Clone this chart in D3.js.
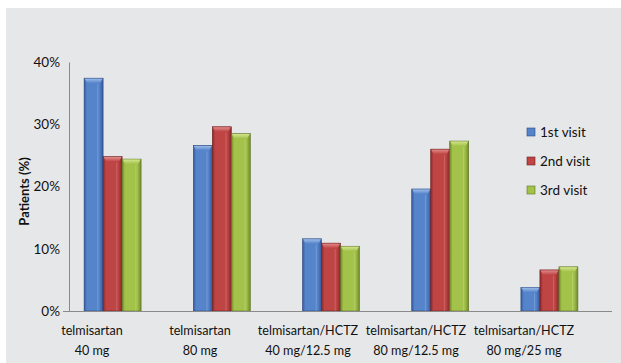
<!DOCTYPE html>
<html>
<head>
<meta charset="utf-8">
<script src="https://cdn.jsdelivr.net/npm/d3@7/dist/d3.min.js"></script>
<style>
  html, body { margin: 0; padding: 0; background: #ffffff; }
  svg { display: block; }
  text { font-family: Lato, "Open Sans", sans-serif; fill: #111; }
</style>
</head>
<body>
<svg id="chart" width="621" height="363"></svg>
<script>
// Share of patients per treatment arm at each visit
const categories = [
  ["telmisartan", "40 mg"],
  ["telmisartan", "80 mg"],
  ["telmisartan/HCTZ", "40 mg/12.5 mg"],
  ["telmisartan/HCTZ", "80 mg/12.5 mg"],
  ["telmisartan/HCTZ", "80 mg/25 mg"]
];
const seriesNames = ["1st visit", "2nd visit", "3rd visit"];
const firstVisit  = [37.4, 26.6, 11.6, 19.6, 3.8];
const secondVisit = [24.8, 29.6, 10.9, 26.0, 6.6];
const thirdVisit  = [24.4, 28.5, 10.4, 27.3, 7.1];
const yTicks = [0, 10, 20, 30, 40];

const seriesValues = [firstVisit, secondVisit, thirdVisit];
const palette = [
  { edge: "#34589a", mid: "#5584cb", cap: "#9bbbe8", line: "#2c4a80" },
  { edge: "#862828", mid: "#bf4444", cap: "#e08a8a", line: "#702020" },
  { edge: "#6f882a", mid: "#a3c24a", cap: "#d2e48c", line: "#5e7424" }
];

const svg = d3.select("#chart");
const W = 621, H = 363;

// panel background
svg.append("rect").attr("x", 6).attr("y", 8).attr("width", W - 6).attr("height", H - 8)
  .attr("fill", "#e6e7e9");

const plot = { left: 69, right: 612, top: 62, bottom: 311 };

const y = d3.scaleLinear().domain([0, 40]).range([plot.bottom, plot.top]);
const catKeys = categories.map((c, i) => i);
// bar groups and their labels
const xBars = d3.scaleBand().domain(catKeys).range([58, 604]);
const xLabels = d3.scaleBand().domain(catKeys).range([38, 578]);
const xSeries = d3.scaleBand().domain(d3.range(seriesNames.length)).range([-28.5, 28.5]);

// gradients
const defs = svg.append("defs");
palette.forEach((p, i) => {
  const g = defs.append("linearGradient").attr("id", "body" + i)
    .attr("x1", "0").attr("x2", "1").attr("y1", "0").attr("y2", "0");
  g.append("stop").attr("offset", "0").attr("stop-color", p.edge);
  g.append("stop").attr("offset", "0.15").attr("stop-color", p.mid);
  g.append("stop").attr("offset", "0.8").attr("stop-color", p.mid);
  g.append("stop").attr("offset", "1").attr("stop-color", p.edge);
  const c = defs.append("linearGradient").attr("id", "cap" + i)
    .attr("x1", "0").attr("x2", "0").attr("y1", "0").attr("y2", "1");
  c.append("stop").attr("offset", "0").attr("stop-color", p.cap);
  c.append("stop").attr("offset", "1").attr("stop-color", p.mid);
});

// y axis
const yAxis = d3.axisLeft(y).tickValues(yTicks).tickFormat(d => d + "%").tickSize(0).tickPadding(9);
const ya = svg.append("g").attr("transform", `translate(${plot.left},0)`).call(yAxis);
ya.select(".domain").attr("stroke", "#8a8a8a");
ya.selectAll("text").attr("font-size", 13.5).attr("fill", "#111")
  .style("font-family", 'Lato, sans-serif');

svg.append("text")
  .attr("transform", `translate(29,${(plot.top + plot.bottom) / 2 + 5}) rotate(-90)`)
  .attr("text-anchor", "middle").attr("font-size", 13).attr("font-weight", "bold")
  .text("Patients (%)");

// bars
const rows = [];
seriesValues.forEach((vals, s) => vals.forEach((v, c) => rows.push({ s, c, v })));
const bw = xSeries.bandwidth();
const bars = svg.append("g").selectAll("g").data(rows).join("g")
  .attr("transform", d => `translate(${xBars(d.c) + xBars.bandwidth() / 2 + xSeries(d.s)},0)`);
bars.append("rect")
  .attr("x", 0).attr("width", bw)
  .attr("y", d => y(d.v)).attr("height", d => y(0) - y(d.v))
  .attr("fill", d => `url(#body${d.s})`)
  .attr("stroke", d => palette[d.s].line).attr("stroke-width", 0.6);
bars.append("path")
  .attr("d", d => {
    const t = y(d.v);
    return `M0.5,${t + 0.5} L${bw - 0.5},${t + 0.5} L${bw - 3},${t + 5} L3,${t + 5} Z`;
  })
  .attr("fill", d => `url(#cap${d.s})`);
// faint inner highlight line
bars.append("line")
  .attr("x1", bw * 0.72).attr("x2", bw * 0.72)
  .attr("y1", d => y(d.v) + 6).attr("y2", y(0))
  .attr("stroke", "#ffffff").attr("stroke-opacity", 0.18).attr("stroke-width", 1);

// baseline
svg.append("line").attr("x1", 63).attr("x2", plot.right)
  .attr("y1", y(0) + 0.5).attr("y2", y(0) + 0.5)
  .attr("stroke", "#8a8a8a").attr("stroke-width", 1.2);

// category labels
const lab = svg.append("g").selectAll("text").data(categories).join("text")
  .attr("x", (d, i) => xLabels(i) + xLabels.bandwidth() / 2)
  .attr("text-anchor", "middle").attr("font-size", 12.6);
lab.append("tspan").attr("x", (d, i) => xLabels(i) + xLabels.bandwidth() / 2).attr("y", 335).text(d => d[0]);
lab.append("tspan").attr("x", (d, i) => xLabels(i) + xLabels.bandwidth() / 2).attr("y", 355).text(d => d[1]);

// legend
const legend = svg.append("g").selectAll("g").data(seriesNames).join("g")
  .attr("transform", (d, i) => `translate(527,${128 + i * 29})`);
legend.append("rect").attr("width", 8).attr("height", 8)
  .attr("fill", (d, i) => palette[i].mid).attr("stroke", (d, i) => palette[i].line).attr("stroke-width", 0.6);
legend.append("text").attr("x", 13).attr("y", 9).attr("font-size", 13.5).text(d => d);
</script>
</body>
</html>
